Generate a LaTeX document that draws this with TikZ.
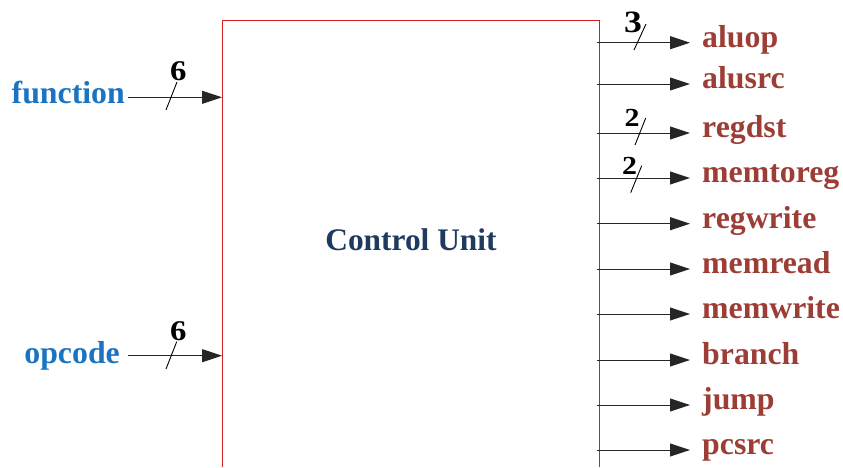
\documentclass[tikz,border=0pt]{standalone}
\usepackage{fontspec}
\setmainfont{Liberation Serif}
\usetikzlibrary{arrows.meta}
\definecolor{lblred}{HTML}{9C3D36}
\definecolor{lblblue}{HTML}{1A74C2}
\definecolor{cunavy}{HTML}{1F3A5F}
\definecolor{boxred}{HTML}{D42020}
\begin{document}
\begin{tikzpicture}[x=1pt,y=-1pt,
  sig/.style={draw=black!85, line width=0.9pt, -{Triangle[length=20pt,width=13pt]}},
  outlbl/.style={anchor=base west, inner sep=0pt, text=lblred, font=\fontsize{31.8}{36}\selectfont\bfseries},
  inlbl/.style={anchor=base east, inner sep=0pt, text=lblblue, font=\fontsize{31.8}{36}\selectfont\bfseries},
  buslbl/.style={inner sep=0pt, text=black, xscale=1.15},
  busslash/.style={draw=black, line width=0.9pt}]
\useasboundingbox (0,0) rectangle (843,467);
% box
\draw[boxred, line width=1pt] (222,467) -- (222,20) -- (599,20) -- (599,467);
\node[text=cunavy, font=\fontsize{31.4}{36}\selectfont\bfseries, inner sep=0pt] (cu) at (411,240) {Control Unit};
% inputs
\node[inlbl] (fn) at (125,103) {function};
\coordinate (fnS) at (128,97.3);
\coordinate (fnE) at (222,97.3);
\draw[sig] (fnS) -- (fnE);
\draw[busslash] (166,110) -- (177,82);
\node[buslbl, font=\fontsize{28.5}{30}\selectfont\bfseries] (fnw) at (178.3,71) {6};
\node[inlbl] (op) at (120,363) {opcode};
\coordinate (opS) at (128,355.7);
\coordinate (opE) at (222,355.7);
\draw[sig] (opS) -- (opE);
\draw[busslash] (166,369) -- (176.7,341.7);
\node[buslbl, font=\fontsize{28.5}{30}\selectfont\bfseries] (opw) at (178.3,331) {6};
% outputs
\foreach \n/\y/\t in {aluop/42.7/aluop, alusrc/84/alusrc, regdst/133/regdst, memtoreg/178/memtoreg,
    regwrite/223.7/regwrite, memread/269/memread, memwrite/314/memwrite, branch/360/branch,
    jump/405/jump, pcsrc/450/pcsrc}{
  \coordinate (\n S) at (597,\y);
  \coordinate (\n E) at (690,\y);
  \draw[sig] (\n S) -- (\n E);
  \node[outlbl] (\n) at (702,\y+4.5) {\t};
}
% bus widths on outputs
\draw[busslash] (634,50) -- (646,24);
\node[buslbl, font=\fontsize{31}{34}\selectfont\bfseries] (w1) at (633,22.8) {3};
\draw[busslash] (635,145) -- (645.7,118);
\node[buslbl, font=\fontsize{26}{28}\selectfont\bfseries] (w2) at (632,118) {2};
\draw[busslash] (630.7,192.7) -- (641.7,165.7);
\node[buslbl, font=\fontsize{26}{28}\selectfont\bfseries] (w3) at (629.5,165.5) {2};
\end{tikzpicture}
\end{document}
